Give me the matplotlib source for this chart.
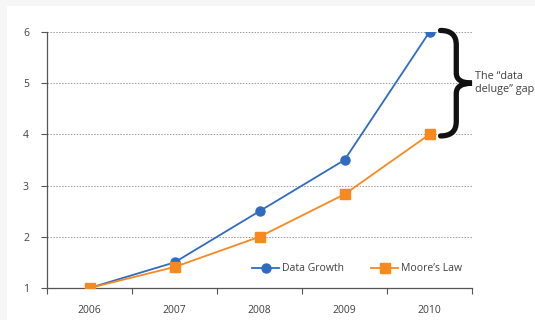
import numpy as np
import matplotlib
matplotlib.use("Agg")
import matplotlib.pyplot as plt
from matplotlib.path import Path
import matplotlib.patches as mpatches

# data
years = ["2006", "2007", "2008", "2009", "2010"]
data_growth = [1, 1.5, 2.5, 3.5, 6]
moores_law = [1, 1.41, 2, 2.83, 4]

blue = "#2f6cc0"
orange = "#f7891f"
txt = "#404040"

plt.rcParams["font.family"] = ["Open Sans", "DejaVu Sans"]

fig = plt.figure(figsize=(5.35, 3.2), dpi=100, facecolor="#f6f6f6")
# white panel behind everything
panel = mpatches.Rectangle((7 / 535, 0), 1, 1 - 6 / 320, transform=fig.transFigure,
                           facecolor="white", edgecolor="none", zorder=-10)
fig.add_artist(panel)
ax = fig.add_axes([47 / 535, 0.1, 425 / 535, 0.8])
ax.set_zorder(1)
ax.patch.set_alpha(0)

x = np.arange(len(years))
ax.plot(x, data_growth, color=blue, lw=1.3, marker="o", ms=6.5, label="Data Growth", zorder=3)
ax.plot(x, moores_law, color=orange, lw=1.3, marker="s", ms=7.5, label="Moore\u2019s Law", zorder=3)

ax.set_xlim(-0.5, len(years) - 0.5)
ax.set_ylim(1, 6)
ax.set_yticks(range(1, 7))
ax.set_xticks(x)
ax.set_xticklabels(years)
ax.set_xticks(np.arange(-0.5, len(years)), minor=True)
ax.tick_params(axis="x", which="major", length=0, pad=12, labelsize=7.5, colors=txt)
ax.tick_params(axis="x", which="minor", length=4, width=0.8, color="#555555", direction="out")
ax.tick_params(axis="y", length=4, width=0.8, color="#555555", labelsize=7.5, labelcolor=txt, pad=9)

for yv in range(2, 7):
    ax.axhline(yv, color="#9a9a9a", lw=0.7, ls=(0, (1.5, 1.5)), zorder=1)

for s in ["top", "right"]:
    ax.spines[s].set_visible(False)
for s in ["left", "bottom"]:
    ax.spines[s].set_color("#555555")
    ax.spines[s].set_linewidth(0.9)

ax.legend(loc="center", bbox_to_anchor=(0.73, 0.075), ncol=2, frameon=False,
          fontsize=7.5, handlelength=2.6, columnspacing=2.6, handletextpad=0.3,
          labelcolor=txt)

# curly brace marking the gap at the last year
top = data_growth[-1]
bot = moores_law[-1]
mid = (top + bot) / 2
x0 = x[-1] + 0.13
w = 0.37
xm = x0 + w * 0.5
verts = [(x0, top + 0.03), (xm, top + 0.03), (xm, top - 0.25), (xm, mid + 0.2),
         (xm, mid), (x0 + w, mid),
         (xm, mid), (xm, mid - 0.2), (xm, bot + 0.25),
         (xm, bot - 0.03), (x0, bot - 0.03)]
codes = [Path.MOVETO, Path.CURVE3, Path.CURVE3, Path.LINETO,
         Path.CURVE3, Path.CURVE3,
         Path.CURVE3, Path.CURVE3, Path.LINETO,
         Path.CURVE3, Path.CURVE3]
ax.add_patch(mpatches.PathPatch(Path(verts, codes), facecolor="none", edgecolor="#111111",
                                lw=3.8, capstyle="round", clip_on=False, zorder=4))
ax.text(x0 + w + 0.03, mid, "The \u201cdata\ndeluge\u201d gap", fontsize=7.8, color=txt,
        ha="left", va="center", linespacing=1.25, clip_on=False)

fig.savefig("out.png", dpi=100, facecolor=fig.get_facecolor())
